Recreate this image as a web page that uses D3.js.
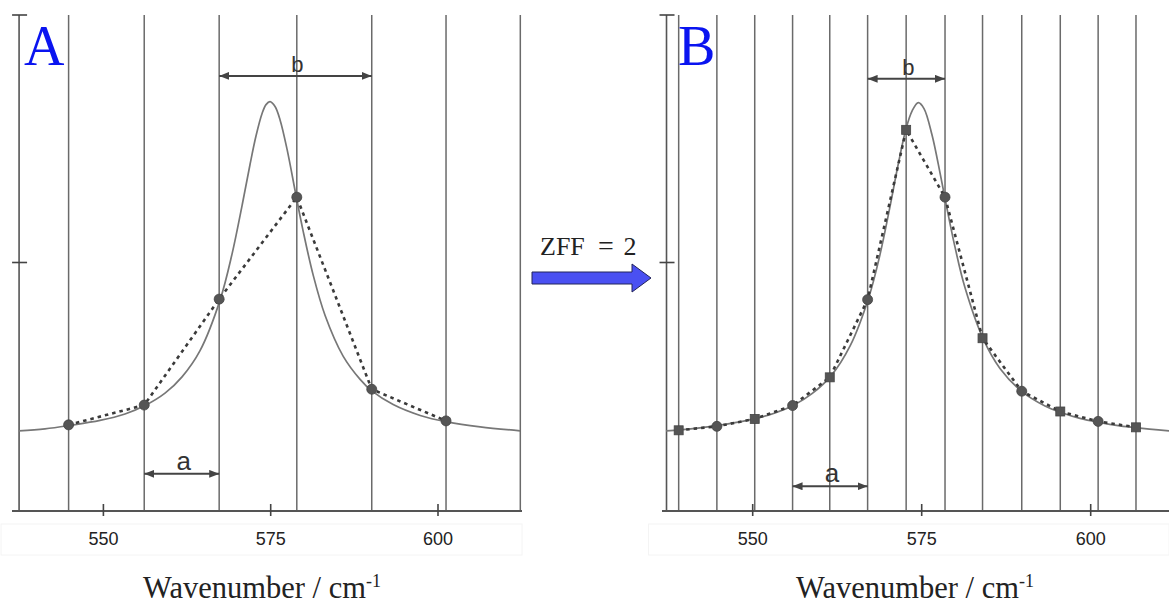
<!DOCTYPE html>
<html>
<head>
<meta charset="utf-8">
<script src="https://cdnjs.cloudflare.com/ajax/libs/d3/7.8.5/d3.min.js"></script>
<style>
  html, body { margin: 0; padding: 0; background: #fff; }
  svg { display: block; }
</style>
</head>
<body>
<svg id="chart" width="1169" height="604"></svg>
<script>
// ---------------- DATA ----------------
const xTicks = [550, 575, 600];
const xTickLabels = ["550", "575", "600"];
const yTicks = [0.5, 1.0];
const axisTitle = "Wavenumber / cm";
const axisTitleSup = "-1";
const panelLabels = ["A", "B"];
const zffParts = ["ZFF", "=", "2"];

// Panel A: measured (sampled) points, vertical grid positions, true band shape
const gridA = [544.8, 556.1, 567.3, 578.9, 590.1, 601.2, 612.3];
const pointsAx = [544.8, 556.1, 567.3, 578.9, 590.1, 601.2];
const pointsAy = [0.172, 0.212, 0.426, 0.632, 0.244, 0.180];
const curveAx = [537.38, 541.27, 545.01, 549.49, 553.23, 556.22, 559.21, 561.75, 564.44, 567.43, 569.22, 570.72, 571.91, 572.81, 573.71, 574.30, 574.90, 575.65, 576.40, 577.44, 578.79, 579.84, 581.34, 583.13, 585.82, 588.36, 590.16, 593.30, 597.34, 601.37, 606.30, 612.27];
const curveAy = [0.160, 0.164, 0.171, 0.181, 0.194, 0.211, 0.236, 0.269, 0.322, 0.424, 0.517, 0.615, 0.698, 0.756, 0.801, 0.819, 0.825, 0.815, 0.788, 0.729, 0.635, 0.564, 0.475, 0.393, 0.311, 0.264, 0.240, 0.213, 0.191, 0.178, 0.168, 0.160];

// Panel B: zero-filled (ZFF = 2) points, grid, true band shape
const gridB = [539.05, 544.7, 550.3, 555.9, 561.4, 567.0, 572.7, 578.45, 584.0, 589.8, 595.5, 601.1, 606.7];
const pointsBx = [539.05, 544.7, 550.3, 555.9, 561.4, 567.0, 572.7, 578.45, 584.0, 589.8, 595.5, 601.1, 606.7];
const pointsBy = [0.161, 0.169, 0.184, 0.211, 0.268, 0.425, 0.768, 0.632, 0.347, 0.240, 0.199, 0.179, 0.167];
const pointsBkind = ["square", "circle", "square", "circle", "square", "circle", "square", "circle", "square", "circle", "square", "circle", "square"];
const curveBx = [537.17, 539.25, 542.20, 544.87, 548.12, 550.49, 553.30, 556.11, 558.77, 561.58, 564.39, 567.16, 568.83, 570.31, 571.49, 572.68, 573.57, 574.50, 575.34, 576.52, 577.71, 578.45, 579.93, 581.41, 584.22, 586.58, 589.84, 593.24, 595.61, 598.42, 601.23, 604.33, 606.85, 611.59];
const curveBy = [0.160, 0.162, 0.166, 0.171, 0.178, 0.185, 0.196, 0.212, 0.235, 0.271, 0.331, 0.429, 0.516, 0.613, 0.696, 0.770, 0.806, 0.823, 0.811, 0.758, 0.681, 0.629, 0.531, 0.449, 0.342, 0.286, 0.239, 0.210, 0.197, 0.185, 0.177, 0.170, 0.166, 0.160];

// Annotation arrows: [from, to] in cm-1, level on y scale, label
const annotA = [
  {from: 567.3, to: 590.1, level: 0.877, label: "b", size: 22},
  {from: 556.1, to: 567.3, level: 0.073, label: "a", size: 26}
];
const annotB = [
  {from: 567.0, to: 578.45, level: 0.871, label: "b", size: 22},
  {from: 555.9, to: 567.0, level: 0.048, label: "a", size: 26}
];

// ---------------- DRAW ----------------
const svg = d3.select("#chart");
const defs = svg.append("defs");
defs.append("marker")
  .attr("id", "ah")
  .attr("viewBox", "0 0 10 8")
  .attr("refX", 10).attr("refY", 4)
  .attr("markerWidth", 10).attr("markerHeight", 8)
  .attr("markerUnits", "userSpaceOnUse")
  .attr("orient", "auto-start-reverse")
  .append("path").attr("d", "M0,0 L10,4 L0,8 Z").attr("fill", "#444");

const y = d3.scaleLinear().domain([0, 1]).range([510, 15]);

const panels = [
  {
    x: d3.scaleLinear().domain([550, 600]).range([103.4, 438]),
    xMin: 537.4, axisLeft: 12, axisRight: 522,
    grid: gridA, px: pointsAx, py: pointsAy, kinds: pointsAx.map(() => "circle"),
    cx: curveAx, cy: curveAy, annot: annotA, label: panelLabels[0],
    labelX: 24, titleX: 262
  },
  {
    x: d3.scaleLinear().domain([550, 600]).range([752.7, 1090.7]),
    xMin: 537.25, axisLeft: 662, axisRight: 1169,
    grid: gridB, px: pointsBx, py: pointsBy, kinds: pointsBkind,
    cx: curveBx, cy: curveBy, annot: annotB, label: panelLabels[1],
    labelX: 678, titleX: 915
  }
];

panels.forEach(p => {
  const g = svg.append("g");
  const x = p.x;
  const axisX = x(p.xMin);

  // faint label backgrounds
  g.append("rect")
    .attr("x", axisX - 18).attr("y", 524).attr("width", p.axisRight - axisX + 18).attr("height", 31)
    .attr("fill", "#fff").attr("stroke", "#f4f4f4").attr("stroke-width", 1);

  // vertical grid lines
  g.selectAll("line.grid").data(p.grid).enter().append("line")
    .attr("class", "grid")
    .attr("x1", d => x(d)).attr("x2", d => x(d))
    .attr("y1", y(1)).attr("y2", y(0))
    .attr("stroke", "#6a6a6a").attr("stroke-width", 1.5);

  // y axis line
  g.append("line")
    .attr("x1", axisX).attr("x2", axisX).attr("y1", y(1)).attr("y2", y(0))
    .attr("stroke", "#555").attr("stroke-width", 1.6);
  // y ticks
  g.selectAll("line.ytick").data(yTicks).enter().append("line")
    .attr("x1", axisX - 7).attr("x2", axisX + 8)
    .attr("y1", d => y(d)).attr("y2", d => y(d))
    .attr("stroke", "#444").attr("stroke-width", 1.6);

  // x axis
  g.append("line")
    .attr("x1", p.axisLeft).attr("x2", p.axisRight).attr("y1", y(0) + 1).attr("y2", y(0) + 1)
    .attr("stroke", "#555").attr("stroke-width", 1.8);
  g.selectAll("line.xtick").data(xTicks).enter().append("line")
    .attr("x1", d => x(d)).attr("x2", d => x(d))
    .attr("y1", y(0) - 6).attr("y2", y(0) + 6)
    .attr("stroke", "#444").attr("stroke-width", 1.6);
  g.selectAll("text.xtl").data(xTicks).enter().append("text")
    .attr("x", d => x(d)).attr("y", 545)
    .attr("text-anchor", "middle")
    .attr("font-family", "'Liberation Sans', Arial, sans-serif")
    .attr("font-size", 18).attr("fill", "#222")
    .text((d, i) => xTickLabels[i]);

  // true band (solid)
  const curveData = p.cx.map((v, i) => [v, p.cy[i]]);
  g.append("path")
    .datum(curveData)
    .attr("d", d3.line().x(d => x(d[0])).y(d => y(d[1])).curve(d3.curveCatmullRom.alpha(0.5)))
    .attr("fill", "none").attr("stroke", "#777").attr("stroke-width", 1.7);

  // sampled data (dotted)
  const ptData = p.px.map((v, i) => ({x: v, y: p.py[i], k: p.kinds[i]}));
  g.append("path")
    .datum(ptData)
    .attr("d", d3.line().x(d => x(d.x)).y(d => y(d.y)))
    .attr("fill", "none").attr("stroke", "#3a3a3a").attr("stroke-width", 2.6)
    .attr("stroke-dasharray", "3.5,4");

  // markers
  g.selectAll("circle.pt").data(ptData.filter(d => d.k === "circle")).enter().append("circle")
    .attr("cx", d => x(d.x)).attr("cy", d => y(d.y)).attr("r", 5)
    .attr("fill", "#555").attr("stroke", "#444").attr("stroke-width", 0.8);
  g.selectAll("rect.pt").data(ptData.filter(d => d.k === "square")).enter().append("rect")
    .attr("x", d => x(d.x) - 4.5).attr("y", d => y(d.y) - 4.5).attr("width", 9).attr("height", 9)
    .attr("fill", "#555").attr("stroke", "#444").attr("stroke-width", 0.8);

  // annotation arrows
  p.annot.forEach(a => {
    g.append("line")
      .attr("x1", x(a.from)).attr("x2", x(a.to))
      .attr("y1", y(a.level)).attr("y2", y(a.level))
      .attr("stroke", "#444").attr("stroke-width", 2)
      .attr("marker-start", "url(#ah)").attr("marker-end", "url(#ah)");
    g.append("text")
      .attr("x", (x(a.from) + x(a.to)) / 2 + 2).attr("y", y(a.level) - 4)
      .attr("text-anchor", "middle")
      .attr("font-family", "'Liberation Sans', Arial, sans-serif")
      .attr("font-size", a.size).attr("fill", "#333")
      .text(a.label);
  });

  // panel label
  g.append("text")
    .attr("x", p.labelX).attr("y", 65)
    .attr("font-family", "'Liberation Serif', 'Times New Roman', serif")
    .attr("font-size", 56).attr("fill", "#0a14f0")
    .text(p.label);

  // axis title
  const t = g.append("text")
    .attr("x", p.titleX).attr("y", 598)
    .attr("text-anchor", "middle")
    .attr("font-family", "'Liberation Serif', 'Times New Roman', serif")
    .attr("font-size", 30.5).attr("fill", "#222");
  t.append("tspan").text(axisTitle);
  t.append("tspan").attr("dy", -11).attr("font-size", 18).text(axisTitleSup);
});

// ZFF label and blue arrow
const zt = svg.append("text")
  .attr("y", 255)
  .attr("font-family", "'Liberation Serif', 'Times New Roman', serif")
  .attr("font-size", 26).attr("fill", "#222");
zt.append("tspan").attr("x", 540).text(zffParts[0]);
zt.append("tspan").attr("x", 606).attr("text-anchor", "middle").attr("font-size", 28).text(zffParts[1]);
zt.append("tspan").attr("x", 630).attr("text-anchor", "middle").text(zffParts[2]);

const arrowPts = [[532, 272], [632, 272], [632, 264], [651, 278], [632, 292], [632, 284], [532, 284]];
svg.append("path")
  .attr("d", d3.line()(arrowPts) + "Z")
  .attr("fill", "#4a50f2").attr("stroke", "#23245a").attr("stroke-width", 1);
</script>
</body>
</html>
